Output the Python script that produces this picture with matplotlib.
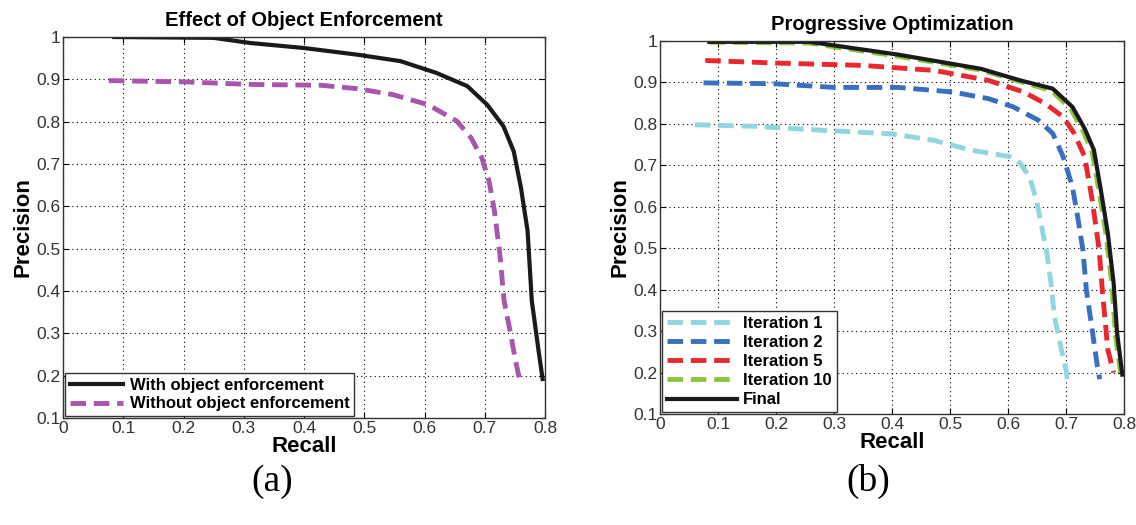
import matplotlib
matplotlib.use('Agg')
import matplotlib.pyplot as plt
from matplotlib.ticker import FuncFormatter

plt.rcParams['font.family'] = ['Liberation Sans', 'DejaVu Sans']

# Panel (a): effect of object enforcement
with_recall = [0.085, 0.25, 0.31, 0.40, 0.49, 0.56, 0.62, 0.671, 0.704, 0.731, 0.748,
               0.760, 0.771, 0.778, 0.790, 0.796]
with_prec = [1.0, 0.998, 0.986, 0.974, 0.958, 0.943, 0.915, 0.884, 0.840, 0.789, 0.730,
             0.644, 0.542, 0.377, 0.251, 0.192]
without_recall = [0.076, 0.203, 0.31, 0.428, 0.488, 0.547, 0.606, 0.654, 0.677, 0.695,
                  0.707, 0.716, 0.725, 0.732, 0.743, 0.751, 0.757]
without_prec = [0.897, 0.894, 0.888, 0.886, 0.878, 0.864, 0.840, 0.801, 0.762, 0.715,
                0.660, 0.589, 0.487, 0.377, 0.298, 0.235, 0.196]

# Panel (b): progressive optimization
it1_recall = [0.060, 0.165, 0.288, 0.399, 0.473, 0.535, 0.603, 0.621, 0.637, 0.649,
              0.658, 0.667, 0.674, 0.680, 0.692, 0.700, 0.703]
it1_prec = [0.798, 0.794, 0.784, 0.776, 0.760, 0.737, 0.721, 0.705, 0.672, 0.616,
            0.552, 0.488, 0.416, 0.335, 0.255, 0.207, 0.171]
it2_recall = [0.075, 0.196, 0.30, 0.411, 0.504, 0.566, 0.609, 0.652, 0.677, 0.695,
              0.711, 0.720, 0.729, 0.735, 0.745, 0.754, 0.758]
it2_prec = [0.899, 0.897, 0.888, 0.888, 0.877, 0.861, 0.841, 0.809, 0.777, 0.721,
            0.648, 0.576, 0.496, 0.400, 0.303, 0.215, 0.184]
it5_recall = [0.078, 0.196, 0.35, 0.473, 0.566, 0.627, 0.664, 0.695, 0.714, 0.732,
              0.745, 0.757, 0.763, 0.772, 0.782]
it5_prec = [0.953, 0.947, 0.941, 0.929, 0.905, 0.877, 0.849, 0.817, 0.777, 0.721,
            0.617, 0.496, 0.391, 0.255, 0.200]
it10_recall = [0.085, 0.257, 0.411, 0.553, 0.621, 0.675, 0.708, 0.729, 0.745, 0.757,
               0.769, 0.779, 0.785, 0.794]
it10_prec = [0.997, 0.995, 0.963, 0.930, 0.902, 0.880, 0.836, 0.784, 0.732, 0.636,
             0.532, 0.412, 0.292, 0.199]
final_recall = [0.085, 0.257, 0.411, 0.553, 0.621, 0.677, 0.711, 0.732, 0.748, 0.760,
                0.772, 0.782, 0.788, 0.797]
final_prec = [0.998, 0.998, 0.967, 0.933, 0.905, 0.885, 0.841, 0.789, 0.737, 0.640,
              0.536, 0.416, 0.295, 0.195]

XTICKS = [0, 0.1, 0.2, 0.3, 0.4, 0.5, 0.6, 0.7, 0.8]
YTICKS = [0.1, 0.2, 0.3, 0.4, 0.5, 0.6, 0.7, 0.8, 0.9, 1.0]
DASH = (0, (3.2, 1.6))

fig = plt.figure(figsize=(11.36, 5.25), dpi=100)
ax_a = fig.add_axes([0.0555, 0.2038, 0.4243, 0.7257])
ax_b = fig.add_axes([0.581, 0.2114, 0.4085, 0.7105])


def style_axes(ax, title):
    ax.set_xlim(0, 0.8)
    ax.set_ylim(0.1, 1.0)
    ax.set_xticks(XTICKS)
    ax.set_yticks(YTICKS)
    fmt = FuncFormatter(lambda v, p: '%g' % round(v, 2))
    ax.xaxis.set_major_formatter(fmt)
    ax.yaxis.set_major_formatter(fmt)
    ax.grid(True, color='black', linestyle=(0, (1, 3)), linewidth=0.8)
    ax.tick_params(direction='in', length=4, top=True, right=True, labelsize=12.5,
                   labelcolor='#333333', pad=2)
    for s in ax.spines.values():
        s.set_color('#333333')
        s.set_linewidth(1.0)
    ax.set_title(title, fontsize=14.5, fontweight='bold', pad=8)
    ax.set_xlabel('Recall', fontsize=16, fontweight='bold', labelpad=0)
    ax.set_ylabel('Precision', fontsize=16, fontweight='bold', labelpad=2)


ax_a.plot(with_recall, with_prec, color='#1a1a1a', lw=3, label='With object enforcement')
ax_a.plot(without_recall, without_prec, color='#a855ad', lw=3.5, linestyle=DASH,
          label='Without object enforcement')
style_axes(ax_a, 'Effect of Object Enforcement')
ax_a.legend(loc='lower left', prop={'weight': 'bold', 'size': 12}, fancybox=False,
            edgecolor='#333333', framealpha=1, handlelength=3.2, borderaxespad=0.1,
            labelspacing=0.2, handletextpad=0.4, borderpad=0.3)

ax_b.plot(it1_recall, it1_prec, color='#8fd6e0', lw=3.5, linestyle=DASH, label='Iteration 1')
ax_b.plot(it2_recall, it2_prec, color='#3a6fc0', lw=3.5, linestyle=DASH, label='Iteration 2')
ax_b.plot(it5_recall, it5_prec, color='#e8282e', lw=3.5, linestyle=DASH, label='Iteration 5')
ax_b.plot(it10_recall, it10_prec, color='#8dc43c', lw=3.5, linestyle=DASH, label='Iteration 10')
ax_b.plot(final_recall, final_prec, color='#1a1a1a', lw=3, label='Final')
style_axes(ax_b, 'Progressive Optimization')
ax_b.legend(loc='lower left', prop={'weight': 'bold', 'size': 12}, fancybox=False,
            edgecolor='#333333', framealpha=1, handlelength=4.2, borderaxespad=0.1,
            labelspacing=0.25, handletextpad=0.4, borderpad=0.3)

fig.text(0.24, 0.083, '(a)', fontsize=27, family='Liberation Serif', ha='center', va='center')
fig.text(0.764, 0.083, '(b)', fontsize=27, family='Liberation Serif', ha='center', va='center')

fig.savefig('out.png', dpi=100)
